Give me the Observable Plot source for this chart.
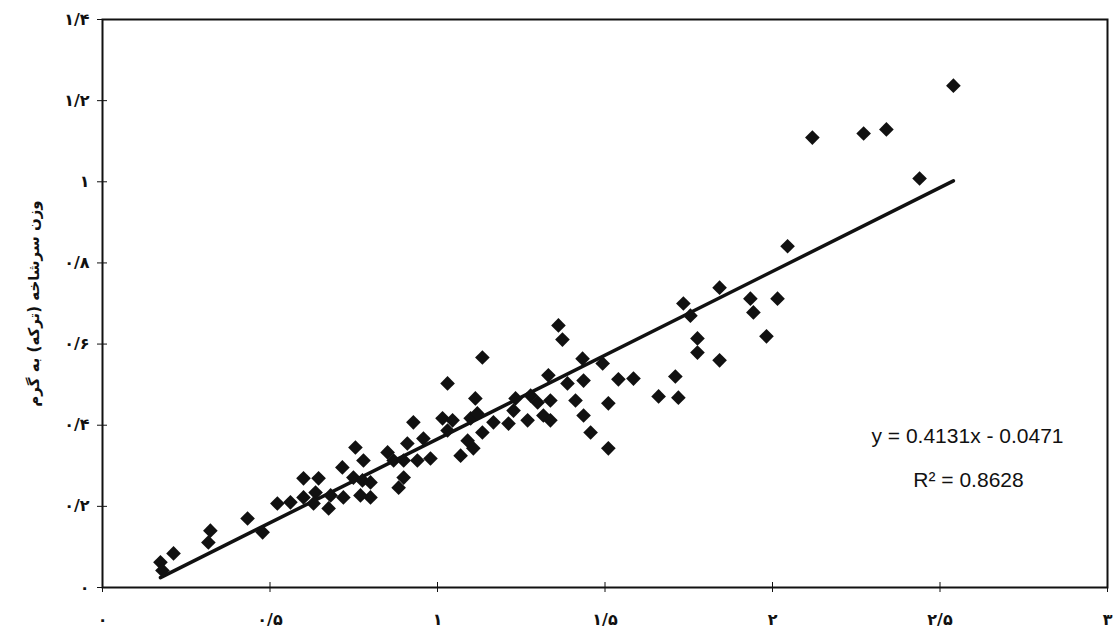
<!DOCTYPE html>
<html>
<head>
<meta charset="utf-8">
<script src="https://cdn.jsdelivr.net/npm/d3@7"></script>
<script src="https://cdn.jsdelivr.net/npm/@observablehq/plot@0.6"></script>
<style>
  html, body { margin: 0; padding: 0; background: #fff; }
  #chart svg { display: block; }
</style>
</head>
<body>
<div id="chart"></div>
<script>
// Data
const xValues = [0.173,0.179,0.212,0.322,0.316,0.433,0.478,0.522,0.561,0.600,
  0.645,0.600,0.636,0.630,0.675,0.681,0.716,0.719,0.755,0.779,
  0.749,0.776,0.800,0.770,0.800,0.851,0.869,0.910,0.928,0.958,
  0.940,0.899,0.884,0.899,0.979,1.015,1.045,1.099,1.119,1.030,
  1.113,1.030,1.090,1.134,1.107,1.069,1.167,1.212,1.233,1.278,
  1.299,1.337,1.269,1.316,1.337,1.331,1.388,1.436,1.412,1.436,
  1.457,1.134,1.361,1.373,1.433,1.493,1.510,1.510,1.540,1.585,
  1.660,1.710,1.719,1.734,1.755,1.776,1.776,1.227,1.842,1.842,
  1.934,1.943,2.015,1.982,2.045,2.119,2.272,2.340,2.439,2.540];
const yValues = [0.062,0.042,0.084,0.140,0.111,0.170,0.136,0.207,0.210,0.269,
  0.269,0.222,0.234,0.207,0.195,0.227,0.296,0.222,0.345,0.313,
  0.271,0.264,0.222,0.227,0.259,0.333,0.313,0.355,0.407,0.367,
  0.313,0.271,0.246,0.313,0.318,0.417,0.412,0.417,0.429,0.503,
  0.466,0.387,0.362,0.382,0.343,0.325,0.407,0.404,0.466,0.473,
  0.456,0.461,0.412,0.424,0.412,0.523,0.503,0.510,0.461,0.424,
  0.382,0.567,0.646,0.611,0.564,0.552,0.343,0.454,0.513,0.515,
  0.471,0.520,0.468,0.700,0.670,0.614,0.579,0.436,0.739,0.560,
  0.712,0.678,0.712,0.619,0.841,1.109,1.119,1.129,1.008,1.237];

const slope = 0.4131;
const intercept = -0.0471;
const rSquared = 0.8628;

const xTicks = [0, 0.5, 1, 1.5, 2, 2.5, 3];
const xTickLabels = ["۰", "۰/۵", "۱", "۱/۵", "۲", "۲/۵", "۳"];
const yTicks = [0, 0.2, 0.4, 0.6, 0.8, 1, 1.2, 1.4];
const yTickLabels = ["۰", "۰/۲", "۰/۴", "۰/۶", "۰/۸", "۱", "۱/۲", "۱/۴"];

const yTitle = "وزن سرشاخه (ترکه) به گرم";
const eqText = "y = " + slope + "x - " + Math.abs(intercept);
const r2Text = "R² = " + rSquared;

const points = xValues.map((x, i) => ({x, y: yValues[i]}));
const [xmin, xmax] = d3.extent(xValues);
const fitLine = [xmin, xmax].map(x => ({x, y: slope * x + intercept}));

const W = 1115, H = 637;
const mL = 102, mR = 8, mT = 19, mB = 50;
const innerW = W - mL - mR, innerH = H - mT - mB;

const xLabel = d => xTickLabels[xTicks.indexOf(d)];
const yLabel = d => yTickLabels[yTicks.indexOf(d)];

const chart = Plot.plot({
  width: W,
  height: H,
  marginLeft: mL,
  marginRight: mR,
  marginTop: mT,
  marginBottom: mB,
  style: {background: "#fff", color: "#111"},
  x: {domain: [0, 3]},
  y: {domain: [0, 1.4]},
  marks: [
    Plot.axisX(xTicks, {tickSize: 5, tickPadding: 21, tickFormat: xLabel, label: null,
      fontSize: 16, fontWeight: "bold", fontFamily: "DejaVu Sans", stroke: "#111"}),
    Plot.axisY(yTicks, {tickSize: 5, tickPadding: 8, tickFormat: yLabel, label: null,
      fontSize: 16, fontWeight: "bold", fontFamily: "DejaVu Sans", stroke: "#111"}),
    Plot.tickY(yTicks, {y: d => d, insetRight: innerW - 5, stroke: "#111", strokeWidth: 1}),
    Plot.tickX(xTicks, {x: d => d, insetTop: innerH - 5, stroke: "#111", strokeWidth: 1}),
    Plot.frame({stroke: "#111", strokeWidth: 2}),
    Plot.line(fitLine, {x: "x", y: "y", stroke: "#111", strokeWidth: 3.5}),
    Plot.dot(points, {x: "x", y: "y", symbol: "diamond2", r: 6.6, fill: "#111", stroke: "none"}),
    Plot.text([yTitle], {text: d => d, frameAnchor: "left", dx: -68, rotate: -90,
      textAnchor: "middle", fontSize: 15, fontWeight: "bold", fontFamily: "DejaVu Sans", fill: "#111"}),
    Plot.text([eqText], {text: d => d, frameAnchor: "right", dx: -140, dy: 133,
      textAnchor: "middle", fontSize: 21, fontFamily: "Liberation Sans", fill: "#111"}),
    Plot.text([r2Text], {text: d => d, frameAnchor: "right", dx: -139, dy: 177,
      textAnchor: "middle", fontSize: 21, fontFamily: "Liberation Sans", fill: "#111"})
  ]
});

document.getElementById("chart").appendChild(chart);
</script>
</body>
</html>
